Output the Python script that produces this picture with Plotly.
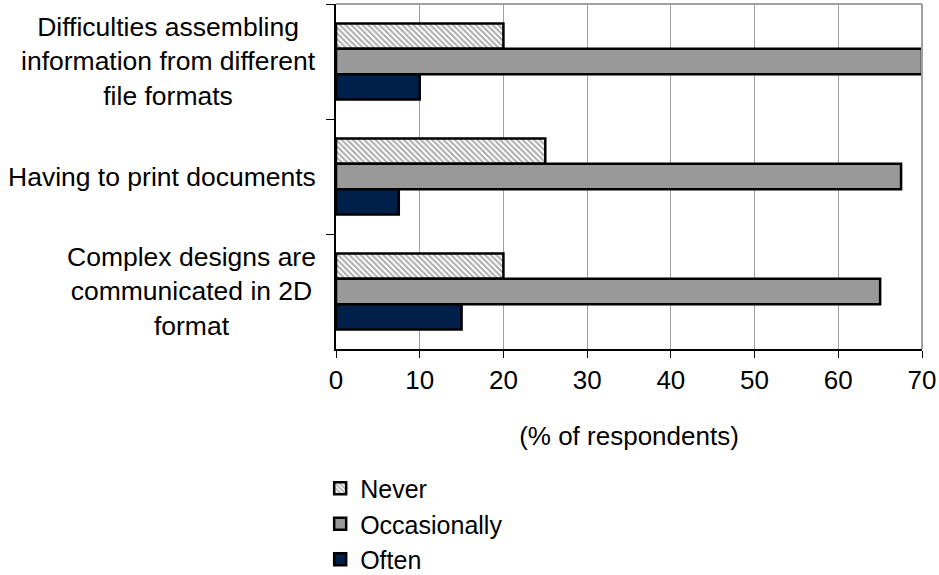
import plotly.graph_objects as go

categories = [
    "Difficulties assembling<br>information from different<br>file formats",
    "Having to print documents",
    "Complex designs are<br>communicated in 2D<br>format",
]
never = [20, 25, 20]
occasionally = [70, 67.5, 65]
often = [10, 7.5, 15]
x_ticks = [0, 10, 20, 30, 40, 50, 60, 70]

FONT = "Liberation Sans, Arial, sans-serif"

fig = go.Figure()
fig.add_trace(go.Bar(
    name="Never", y=categories, x=never, orientation="h",
    marker=dict(color="white",
                pattern=dict(shape="\\", fgcolor="#555555", bgcolor="white",
                             size=4, solidity=0.5),
                line=dict(color="black", width=2.5)),
))
fig.add_trace(go.Bar(
    name="Occasionally", y=categories, x=occasionally, orientation="h",
    marker=dict(color="#999999", line=dict(color="black", width=2.5)),
))
fig.add_trace(go.Bar(
    name="Often", y=categories, x=often, orientation="h",
    marker=dict(color="#00204a", line=dict(color="black", width=2.5)),
))

# category labels, centred multi-line text to the left of the axis
for c in categories:
    fig.add_annotation(x=0, xref="paper", y=c, yref="y", text=c,
                       showarrow=False, xanchor="right", xshift=-18,
                       align="center", font=dict(family=FONT, size=26.5, color="black"))

# grey frame on top and right of the plot area
fig.add_shape(type="line", xref="x domain", yref="y domain", x0=0, x1=1, y0=1, y1=1,
              line=dict(color="#a0a0a0", width=2))
fig.add_shape(type="line", xref="x domain", yref="y domain", x0=1, x1=1, y0=0, y1=1,
              line=dict(color="#a0a0a0", width=2))

fig.update_layout(
    width=939, height=575,
    margin=dict(l=336, r=17, t=4, b=226, autoexpand=False),
    paper_bgcolor="white", plot_bgcolor="white",
    barmode="group", bargap=0.34, bargroupgap=0,
    font=dict(family=FONT, size=26, color="black"),
    showlegend=True,
    legend=dict(x=-0.027, xanchor="left", y=-0.338, yanchor="top",
                font=dict(family=FONT, size=25, color="black"),
                itemwidth=30, tracegroupgap=0, bgcolor="rgba(0,0,0,0)"),
    xaxis=dict(range=[0, 70], tickvals=x_ticks, ticks="outside", ticklen=7,
               tickcolor="black", showline=True, linecolor="black", linewidth=2,
               showgrid=True, gridcolor="#a0a0a0", gridwidth=1, zeroline=False,
               tickfont=dict(size=26),
               title=dict(text="(% of respondents)", font=dict(size=26), standoff=33)),
    yaxis=dict(type="category", categoryorder="array", categoryarray=categories,
               autorange="reversed", showticklabels=False, ticks="outside",
               tickson="boundaries", ticklen=8, tickcolor="black",
               showline=True, linecolor="black", linewidth=2, showgrid=False),
)

fig.write_html("out.html")
